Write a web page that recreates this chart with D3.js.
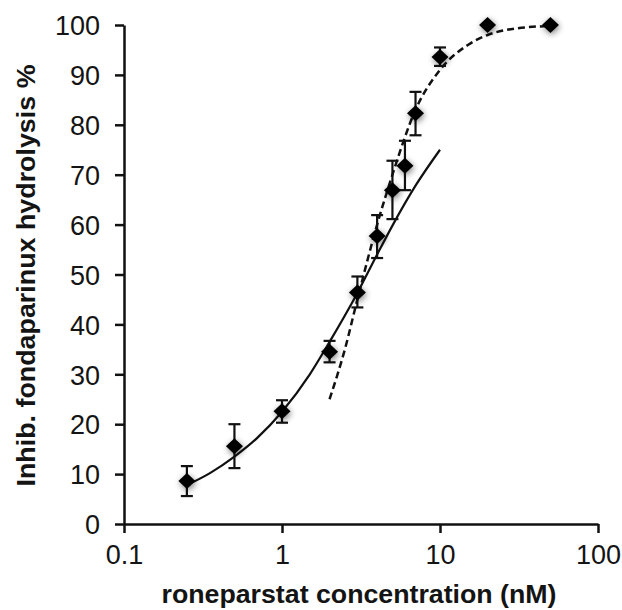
<!DOCTYPE html>
<html>
<head>
<meta charset="utf-8">
<script src="https://cdn.jsdelivr.net/npm/d3@7"></script>
<style>
  body { margin: 0; background: #fff; }
  text { font-family: "Liberation Sans", Arial, sans-serif; fill: #141414; }
</style>
</head>
<body>
<script>
// measured points (concentration nM, inhibition %, error bar low/high)
var conc = [0.25, 0.5, 1, 2, 3, 4, 5, 6, 7, 10, 20, 50];
var inhib = [8.6, 15.6, 22.6, 34.5, 46.4, 57.7, 66.9, 71.8, 82.3, 93.6, 100, 100];
var errLow = [5.6, 11.2, 20.3, 32.4, 43.4, 53.3, 61.1, 66.9, 77.9, 91.8, null, null];
var errHigh = [11.6, 20.0, 24.8, 36.7, 49.6, 61.9, 72.8, 76.8, 86.6, 95.5, null, null];

// fitted curves
var solidX = [0.25, 0.35, 0.5, 0.7, 1, 1.5, 2, 3, 4, 5, 7, 10];
var solidY = [7.8, 10.2, 13.5, 17.3, 22.5, 30, 36.5, 46.3, 54, 59.8, 67.8, 75];
var dashX = [2, 2.5, 3, 4, 5, 7, 10, 15, 20, 30, 50];
var dashY = [25, 35, 45, 60, 70, 83, 91, 96, 98, 99.3, 99.8];

var xTicks = [0.1, 1, 10, 100];
var yTicks = [0, 10, 20, 30, 40, 50, 60, 70, 80, 90, 100];

var width = 622, height = 610;
var margin = {top: 25, right: 24, bottom: 86, left: 124};

var svg = d3.select("body")
            .append("svg")
            .attr("width", width)
            .attr("height", height);

var defs = svg.append("defs");
var shadow = defs.append("filter")
    .attr("id", "shadow")
    .attr("x", "-80%").attr("y", "-80%")
    .attr("width", "260%").attr("height", "260%");
shadow.append("feGaussianBlur").attr("in", "SourceAlpha").attr("stdDeviation", 3).attr("result", "blur");
shadow.append("feOffset").attr("in", "blur").attr("dx", 1).attr("dy", 2).attr("result", "off");
shadow.append("feComponentTransfer").attr("in", "off").attr("result", "soft")
  .append("feFuncA").attr("type", "linear").attr("slope", 0.5);
var merge = shadow.append("feMerge");
merge.append("feMergeNode").attr("in", "soft");
merge.append("feMergeNode").attr("in", "SourceGraphic");

var x = d3.scaleLog()
          .domain([0.1, 100])
          .range([margin.left, width - margin.right]);

var y = d3.scaleLinear()
          .domain([0, 100])
          .range([height - margin.bottom, margin.top]);

// axes
var xAxis = svg.append("g")
    .attr("transform", "translate(0," + y(0) + ")")
    .call(d3.axisBottom(x).tickValues(xTicks).tickFormat(function(d) { return d; }).tickSize(9).tickSizeOuter(0));

var yAxis = svg.append("g")
    .attr("transform", "translate(" + x(0.1) + ",0)")
    .call(d3.axisLeft(y).tickValues(yTicks).tickSize(9).tickSizeOuter(0));

[xAxis, yAxis].forEach(function(ax) {
  ax.select(".domain").attr("stroke", "#111").attr("stroke-width", 2.5);
  ax.selectAll(".tick line").attr("stroke", "#111").attr("stroke-width", 2.5);
  ax.selectAll(".tick text")
    .style("font-family", "'Liberation Sans', Arial, sans-serif")
    .style("font-size", "27px")
    .attr("fill", "#141414");
});
xAxis.selectAll(".tick text").attr("y", 21).attr("dy", "0.71em");
yAxis.selectAll(".tick text").attr("x", -24).attr("dy", "0.36em");

// axis titles
svg.append("text")
   .attr("x", (x(0.1) + x(100)) / 2 - 2)
   .attr("y", 603)
   .attr("text-anchor", "middle")
   .style("font-size", "26px")
   .style("font-weight", "bold")
   .attr("textLength", 395)
   .attr("lengthAdjust", "spacingAndGlyphs")
   .text("roneparstat concentration (nM)");

svg.append("text")
   .attr("transform", "translate(35," + ((y(0) + y(100)) / 2 + 1) + ") rotate(-90)")
   .attr("text-anchor", "middle")
   .style("font-size", "26px")
   .style("font-weight", "bold")
   .attr("textLength", 422)
   .attr("lengthAdjust", "spacingAndGlyphs")
   .text("Inhib. fondaparinux hydrolysis %");

// fitted curves
var line = d3.line()
    .x(function(d) { return x(d[0]); })
    .y(function(d) { return y(d[1]); })
    .curve(d3.curveMonotoneX);

svg.append("path")
   .datum(d3.zip(solidX, solidY))
   .attr("d", line)
   .attr("fill", "none")
   .attr("stroke", "#111")
   .attr("stroke-width", 2.2);

svg.append("path")
   .datum(d3.zip(dashX, dashY))
   .attr("d", line)
   .attr("fill", "none")
   .attr("stroke", "#111")
   .attr("stroke-width", 2.5)
   .attr("stroke-dasharray", "7,4");

// error bars
var points = conc.map(function(c, i) {
  return {c: c, v: inhib[i], lo: errLow[i], hi: errHigh[i]};
});
var bars = svg.append("g").selectAll("g")
    .data(points.filter(function(d) { return d.lo != null; }))
  .enter().append("g")
    .attr("stroke", "#111")
    .attr("stroke-width", 2.2);

bars.append("line")
    .attr("x1", function(d) { return x(d.c); })
    .attr("x2", function(d) { return x(d.c); })
    .attr("y1", function(d) { return y(d.lo); })
    .attr("y2", function(d) { return y(d.hi); });
bars.append("line")
    .attr("x1", function(d) { return x(d.c) - 6; })
    .attr("x2", function(d) { return x(d.c) + 6; })
    .attr("y1", function(d) { return y(d.lo); })
    .attr("y2", function(d) { return y(d.lo); });
bars.append("line")
    .attr("x1", function(d) { return x(d.c) - 6; })
    .attr("x2", function(d) { return x(d.c) + 6; })
    .attr("y1", function(d) { return y(d.hi); })
    .attr("y2", function(d) { return y(d.hi); });

// diamonds
svg.append("g").selectAll("path")
    .data(points)
  .enter().append("path")
    .attr("d", "M0,-8L8.5,0L0,8L-8.5,0Z")
    .attr("transform", function(d) { return "translate(" + x(d.c) + "," + y(d.v) + ")"; })
    .attr("fill", "#000")
    .attr("filter", "url(#shadow)");
</script>
</body>
</html>
